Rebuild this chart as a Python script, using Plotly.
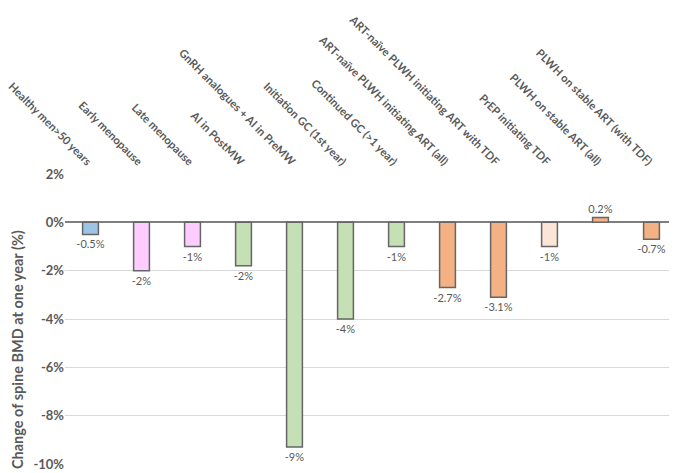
import plotly.graph_objects as go

categories = [
    "Healthy men>50 years",
    "Early menopause",
    "Late menopause",
    "AI in PostMW",
    "GnRH analogues + AI in PreMW",
    "Initiation GC (1st year)",
    "Continued GC (>1 year)",
    "ART-naïve PLWH initiating ART (all)",
    "ART-naïve PLWH initiating ART with TDF",
    "PrEP initiating TDF",
    "PLWH on stable ART (all)",
    "PLWH on stable ART (with TDF)",
]
values = [-0.5, -2.0, -1.0, -1.8, -9.3, -4.0, -1.0, -2.7, -3.1, -1.0, 0.2, -0.7]
value_labels = ["-0.5%", "-2%", "-1%", "-2%", "-9%", "-4%", "-1%", "-2.7%", "-3.1%", "-1%", "0.2%", "-0.7%"]
bar_colors = ["#9DC3E6", "#FFCCFF", "#FFCCFF", "#C5E0B4", "#C5E0B4", "#C5E0B4", "#C5E0B4",
              "#F4B183", "#F4B183", "#FBE5D6", "#F4B183", "#F4B183"]
y_ticks = [2, 0, -2, -4, -6, -8, -10]
y_tick_labels = ["2%", "0%", "-2%", "-4%", "-6%", "-8%", "-10%"]
y_title = "Change of spine BMD at one year (%)"

gray = "#595959"

fig = go.Figure(go.Bar(
    x=categories,
    y=values,
    marker=dict(color=bar_colors, line=dict(color="#666666", width=1.5)),
    text=value_labels,
    textposition="outside",
    constraintext="none",
    textfont=dict(family="Lato", size=11, color=gray),
    cliponaxis=False,
))

fig.add_annotation(
    text=y_title, textangle=-90, showarrow=False,
    xref="paper", yref="paper", x=0, y=0.393,
    xanchor="center", yanchor="middle", xshift=-48,
    font=dict(family="Lato", size=14.5, color=gray, weight="bold"),
)

fig.update_layout(
    width=669, height=465,
    margin=dict(l=57, r=0, t=166, b=9),
    paper_bgcolor="white", plot_bgcolor="white",
    showlegend=False,
    bargap=0.69,
    xaxis=dict(
        side="top", tickangle=45, showgrid=False, showline=False, ticks="",
        automargin=False, ticklabelstandoff=3,
        tickfont=dict(family="Lato", size=11.2, color=gray, weight="bold"),
    ),
    yaxis=dict(
        range=[-10, 2], tickvals=y_ticks, ticktext=y_tick_labels,
        automargin=False,
        showgrid=True, gridcolor="#D9D9D9", gridwidth=1,
        zeroline=True, zerolinecolor="#7F7F7F", zerolinewidth=2,
        tickfont=dict(family="Lato", size=13, color=gray, weight="bold"),
    ),
)

fig.write_html("out.html")
